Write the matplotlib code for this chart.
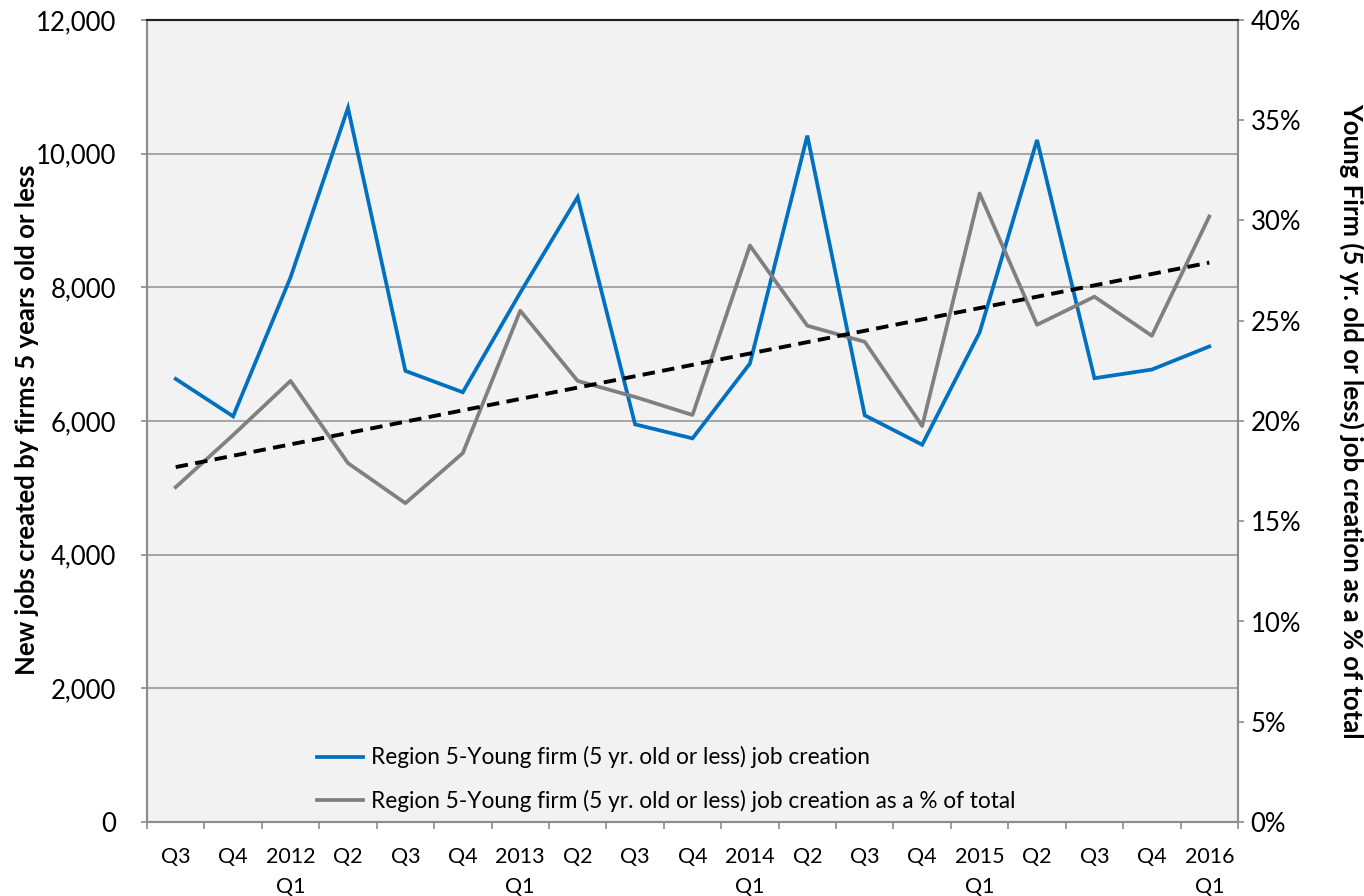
import numpy as np
import matplotlib
matplotlib.use('Agg')
import matplotlib.pyplot as plt
from matplotlib.ticker import FuncFormatter, FixedLocator

plt.rcParams['font.family'] = ['Lato', 'DejaVu Sans']

# quarter labels, 2011 Q3 .. 2016 Q1
quarters = ['Q3', 'Q4', '2012\nQ1', 'Q2', 'Q3', 'Q4', '2013\nQ1', 'Q2', 'Q3', 'Q4',
            '2014\nQ1', 'Q2', 'Q3', 'Q4', '2015\nQ1', 'Q2', 'Q3', 'Q4', '2016\nQ1']

# new jobs created by young firms (left axis)
young_jobs = [6630, 6070, 8150, 10685, 6750, 6430, 7920, 9350, 5950, 5740,
              6860, 10270, 6085, 5645, 7325, 10205, 6640, 6770, 7115]

# young firm job creation as % of total (right axis)
young_pct = [16.7, 19.3, 22.0, 17.9, 15.9, 18.4, 25.5, 22.0, 21.2, 20.3,
             28.75, 24.75, 23.95, 19.75, 31.35, 24.8, 26.2, 24.25, 30.2]

blue = '#0070C0'
grey = '#808080'

x = np.arange(len(quarters))

# linear trendline on the % series, like the Excel one
coef = np.polyfit(x, young_pct, 1)
trend = np.polyval(coef, x)

fig = plt.figure(figsize=(13.64, 8.96), dpi=100)
ax1 = fig.add_axes([147/1364, 1 - 822/896, (1238-147)/1364, (822-20)/896])
ax1.set_facecolor('#f2f2f2')

l1, = ax1.plot(x, young_jobs, color=blue, lw=2.7, solid_joinstyle='miter',
               label='Region 5-Young firm (5 yr. old or less) job creation')
ax1.set_ylim(0, 12000)
ax1.set_xlim(-0.5, len(quarters) - 0.5)
ax1.set_yticks(np.arange(0, 12001, 2000))
ax1.yaxis.set_major_formatter(FuncFormatter(lambda v, p: f'{int(v):,}'))
ax1.grid(axis='y', color='#999999', lw=1.2)
ax1.set_axisbelow(True)

ax1.set_xticks(x)
ax1.set_xticklabels(quarters, fontsize=15.5, linespacing=1.6)
ax1.xaxis.set_minor_locator(FixedLocator(np.arange(-0.5, len(quarters), 1)))
ax1.tick_params(axis='x', which='major', length=0, pad=18)
ax1.tick_params(axis='x', which='minor', length=5, color='#8c8c8c', width=1.2)
ax1.tick_params(axis='y', labelsize=18.5, length=4.5, color='#8c8c8c', width=1.2, pad=18)

ax2 = ax1.twinx()
l2, = ax2.plot(x, young_pct, color=grey, lw=2.7,
               label='Region 5-Young firm (5 yr. old or less) job creation as a % of total')
ax2.plot(x, trend, color='black', lw=2.8, ls=(0, (3.2, 1.9)))
ax2.set_ylim(0, 40)
ax2.set_yticks(np.arange(0, 41, 5))
ax2.yaxis.set_major_formatter(FuncFormatter(lambda v, p: f'{int(v)}%'))
ax2.tick_params(axis='y', labelsize=18.5, length=4.5, color='#8c8c8c', width=1.2, pad=4.5)

fig.text(27/1364, 1 - 420/896, 'New jobs created by firms 5 years old or less',
         fontsize=18.5, fontweight='bold', rotation=90, ha='center', va='center')
fig.text(1352/1364, 1 - 421/896, 'Young Firm (5 yr. old or less) job creation as a % of total',
         fontsize=18.5, fontweight='bold', rotation=-90, ha='center', va='center')

for a in (ax1, ax2):
    for side in ('left', 'right', 'bottom'):
        a.spines[side].set_color('#8c8c8c')
        a.spines[side].set_linewidth(1.5)
    a.spines['top'].set_color('#222222')
    a.spines['top'].set_linewidth(1.5)

ax2.legend(handles=[l1, l2], loc='upper left', frameon=False, fontsize=16.3,
           handlelength=2.0, handletextpad=0.35, labelspacing=0.95,
           bbox_to_anchor=(297/1364, 1 - 726/896), bbox_transform=fig.transFigure)

fig.savefig('out.png', dpi=100)
